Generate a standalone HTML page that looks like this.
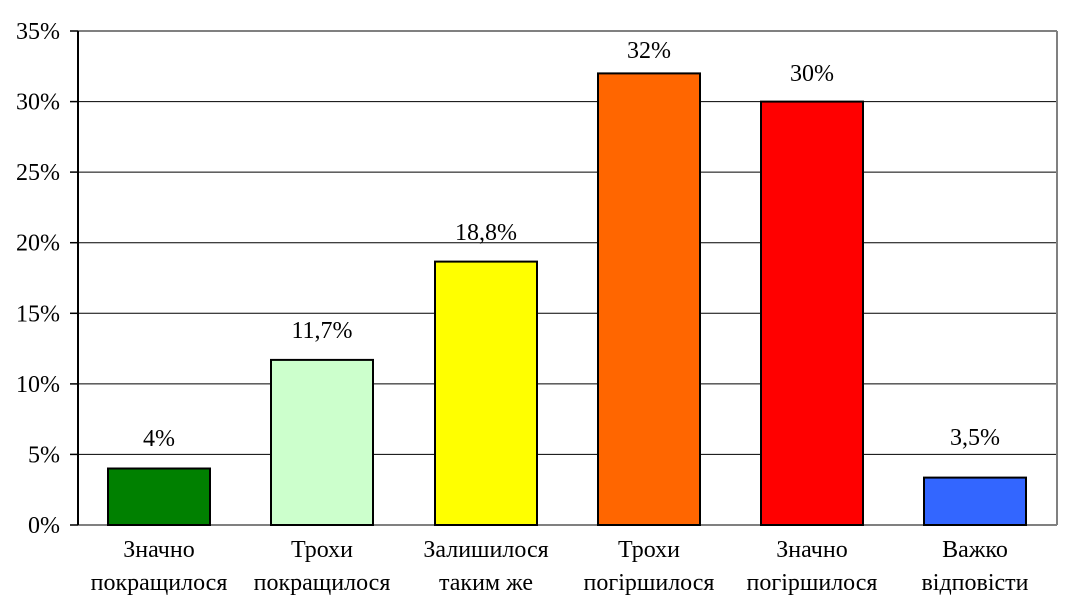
<!DOCTYPE html>
<html><head><meta charset="utf-8"><style>body{margin:0;background:#fff}</style></head><body>
<svg width="1071" height="607" xmlns="http://www.w3.org/2000/svg" fill="#000" style="font-family:'Liberation Serif','Times New Roman',Times,serif;font-size:24px">
<g stroke="#000" stroke-width="1">
<line x1="78" y1="454.4" x2="1057" y2="454.4"/><line x1="78" y1="383.9" x2="1057" y2="383.9"/><line x1="78" y1="313.3" x2="1057" y2="313.3"/><line x1="78" y1="242.7" x2="1057" y2="242.7"/><line x1="78" y1="172.1" x2="1057" y2="172.1"/><line x1="78" y1="101.6" x2="1057" y2="101.6"/>
</g>
<line x1="78" y1="31" x2="1057" y2="31" stroke="#808080" stroke-width="2"/>
<line x1="1057" y1="31" x2="1057" y2="525" stroke="#808080" stroke-width="2"/>
<line x1="78" y1="525" x2="1057" y2="525" stroke="#808080" stroke-width="2"/>
<g stroke="#000" stroke-width="2">
<rect x="108" y="468.5" width="102" height="56.5" fill="#008000"/>
<rect x="271" y="359.9" width="102" height="165.1" fill="#ccffcc"/>
<rect x="435" y="261.6" width="102" height="263.4" fill="#ffff00"/>
<rect x="598" y="73.4" width="102" height="451.6" fill="#ff6600"/>
<rect x="761" y="101.6" width="102" height="423.4" fill="#ff0000"/>
<rect x="924" y="477.6" width="102" height="47.4" fill="#3366ff"/>
</g>
<line x1="78" y1="31" x2="78" y2="525" stroke="#000" stroke-width="2"/>
<g stroke="#000" stroke-width="1.5">
<line x1="70" y1="31" x2="78" y2="31"/><line x1="70" y1="101.6" x2="78" y2="101.6"/><line x1="70" y1="172.1" x2="78" y2="172.1"/><line x1="70" y1="242.7" x2="78" y2="242.7"/><line x1="70" y1="313.3" x2="78" y2="313.3"/><line x1="70" y1="383.9" x2="78" y2="383.9"/><line x1="70" y1="454.4" x2="78" y2="454.4"/><line x1="70" y1="525" x2="78" y2="525"/>
</g>
<g text-anchor="end">
<text x="60" y="39">35%</text><text x="60" y="109.6">30%</text><text x="60" y="180.1">25%</text><text x="60" y="250.7">20%</text><text x="60" y="321.3">15%</text><text x="60" y="391.9">10%</text><text x="60" y="462.4">5%</text><text x="60" y="533">0%</text>
</g>
<g text-anchor="middle">
<text x="159" y="446">4%</text><text x="322" y="338">11,7%</text><text x="486" y="240">18,8%</text><text x="649" y="58">32%</text><text x="812" y="81">30%</text><text x="975" y="445">3,5%</text>
<text x="159" y="557">Значно</text><text x="159" y="590">покращилося</text>
<text x="322" y="557">Трохи</text><text x="322" y="590">покращилося</text>
<text x="486" y="557">Залишилося</text><text x="486" y="590">таким же</text>
<text x="649" y="557">Трохи</text><text x="649" y="590">погіршилося</text>
<text x="812" y="557">Значно</text><text x="812" y="590">погіршилося</text>
<text x="975" y="557">Важко</text><text x="975" y="590">відповісти</text>
</g>
</svg>
</body></html>
